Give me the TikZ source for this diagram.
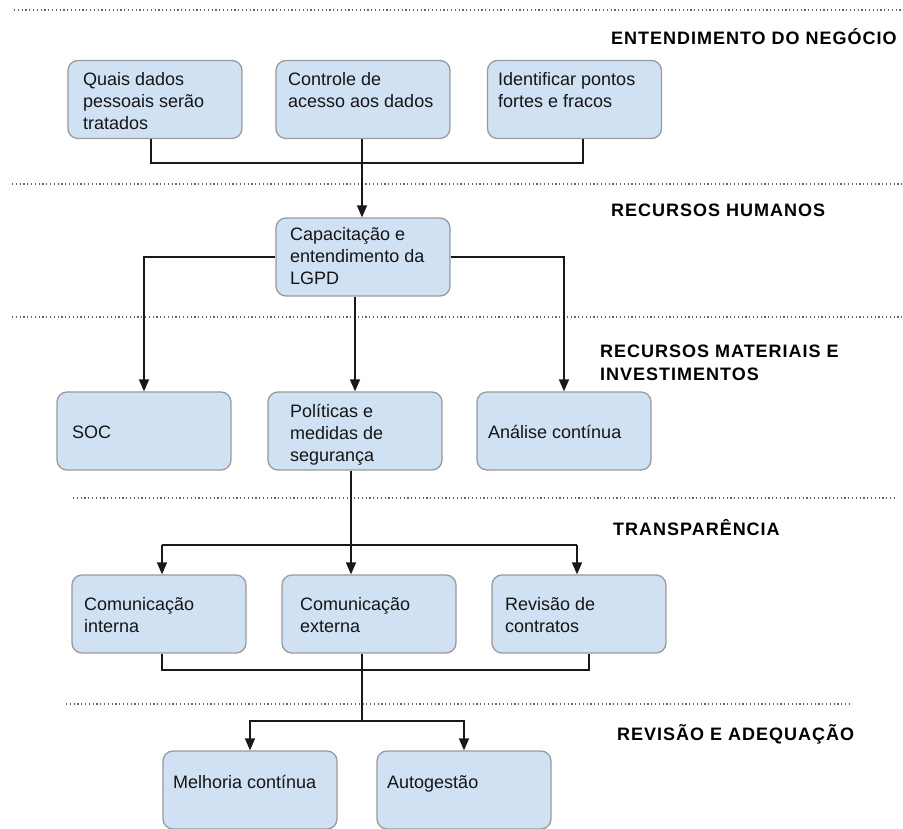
\documentclass[tikz,border=0pt]{standalone}
\usepackage{fontspec}
\setmainfont{Liberation Sans}
\newfontfamily\headfont[LetterSpace=5.5]{Liberation Sans}
\usetikzlibrary{arrows.meta}

\definecolor{boxfill}{HTML}{D0E1F3}
\definecolor{boxline}{HTML}{9A9A9A}
\definecolor{inktext}{HTML}{151515}

\tikzset{
  box/.style={draw=boxline, line width=1.3pt, fill=boxfill, rounded corners=10pt,
    minimum width=174pt, minimum height=78pt, inner sep=0pt},
  % multi-line texts are placed by the baseline of their last line
  boxtext/.style={anchor=base west, align=left, inner sep=0pt, text=inktext,
    font=\fontsize{18}{22}\selectfont},
  heading/.style={anchor=base west, align=left, inner sep=0pt, text=black,
    font=\headfont\bfseries\fontsize{18}{24}\selectfont},
  link/.style={draw=black!90, line width=1.6pt},
  arr/.style={link, -{Triangle[length=12pt,width=10pt]}},
  sep/.style={draw=black!60, line width=1.2pt, dash pattern=on 1.2pt off 2.6pt}
}

\begin{document}
\begin{tikzpicture}[x=1pt, y=-1pt]
\useasboundingbox (0,0) rectangle (903,829);

% section separators
\draw[sep] (14,10) -- (903,10);
\draw[sep] (12,184) -- (903,184);
\draw[sep] (12,317) -- (903,317);
\draw[sep] (73,498) -- (897,498);
\draw[sep] (66,704) -- (850,704);

% section headings
\node[heading] (h1) at (611,45) {ENTENDIMENTO DO NEGÓCIO};
\node[heading] (h2) at (611,217) {RECURSOS HUMANOS};
\node[heading] (h3) at (600,381) {RECURSOS MATERIAIS E\\INVESTIMENTOS};
\node[heading] (h4) at (613,535) {TRANSPARÊNCIA};
\node[heading] (h5) at (617,740) {REVISÃO E ADEQUAÇÃO};

% boxes
\node[box] (quais)    at (155,99.5) {};
\node[box] (controle) at (363,99.5) {};
\node[box] (ident)    at (574.5,99.5) {};
\node[box] (capac)    at (363,257) {};
\node[box] (soc)      at (144,431) {};
\node[box] (polit)    at (355,431) {};
\node[box] (analise)  at (564,431) {};
\node[box] (cint)     at (159,614) {};
\node[box] (cext)     at (369,614) {};
\node[box] (revis)    at (579,614) {};
\node[box] (melh)     at (250,790) {};
\node[box] (auto)     at (464,790) {};

% box texts
\node[boxtext] (tquais)    at (83,130)  {Quais dados\\pessoais serão\\tratados};
\node[boxtext] (tcontrole) at (288,108) {Controle de\\acesso aos dados};
\node[boxtext] (tident)    at (498,108) {Identificar pontos\\fortes e fracos};
\node[boxtext] (tcapac)    at (290,285) {Capacitação e\\entendimento da\\LGPD};
\node[boxtext] (tsoc)      at (72,438)  {SOC};
\node[boxtext] (tpolit)    at (290,461) {Políticas e\\medidas de\\segurança};
\node[boxtext] (tanalise)  at (488,438) {Análise contínua};
\node[boxtext] (tcint)     at (84,632)  {Comunicação\\interna};
\node[boxtext] (tcext)     at (300,632) {Comunicação\\externa};
\node[boxtext] (trevis)    at (505,632) {Revisão de\\contratos};
\node[boxtext] (tmelh)     at (173,788) {Melhoria contínua};
\node[boxtext] (tauto)     at (387,788) {Autogestão};

% connectors: business understanding -> training
\coordinate (j1) at (362,163);
\draw[link] ([xshift=-4pt]quais.south) |- (j1) -| ([xshift=8.5pt]ident.south);
\draw[arr] ([xshift=-1pt]controle.south) -- ([xshift=-1pt]capac.north);

% training -> material resources
\draw[arr] (capac.west) -| (soc.north);
\draw[arr] (capac.east) -| (analise.north);
\draw[arr] (capac.south -| polit.north) -- (polit.north);

% policies -> transparency
\coordinate (j3) at (351,545);
\draw[arr] (j3 |- polit.south) -- (j3 |- cext.north);
\draw[link] ([xshift=3pt]cint.north |- j3) -- ([xshift=-2pt]revis.north |- j3);
\draw[arr] ([xshift=3pt]cint.north |- j3) -- ([xshift=3pt]cint.north);
\draw[arr] ([xshift=-2pt]revis.north |- j3) -- ([xshift=-2pt]revis.north);

% transparency -> review
\coordinate (j4) at (362,670);
\coordinate (j5) at (362,721);
\draw[link] ([xshift=3pt]cint.south) |- (j4) -| ([xshift=10pt]revis.south);
\draw[link] (j4 |- cext.south) -- (j5);
\draw[arr] (j5) -| (melh.north);
\draw[arr] (j5) -| (auto.north);
\end{tikzpicture}
\end{document}
